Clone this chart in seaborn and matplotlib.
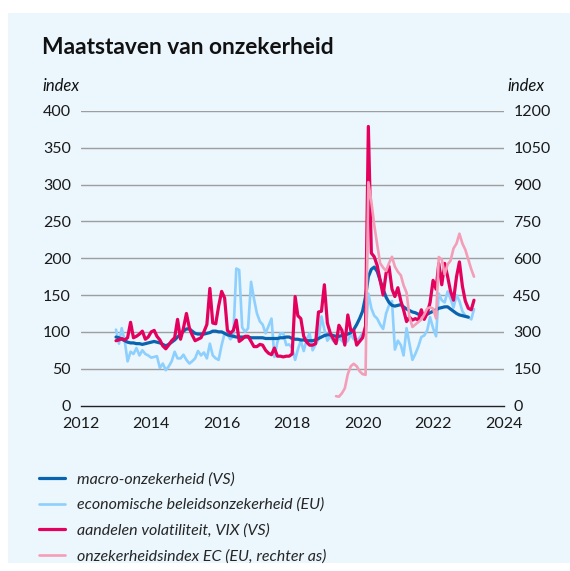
import matplotlib
matplotlib.use("Agg")
import matplotlib.pyplot as plt
import seaborn as sns
import pandas as pd
from matplotlib.patches import Rectangle

# ---------------- data (monthly) ----------------
macro = [93, 92, 90, 88, 86, 85, 85, 84, 84, 83, 84, 85,
         86, 87, 86, 85, 83, 81, 83, 86, 89, 93, 97, 101,
         104, 104, 101, 98, 97, 97, 97, 98, 99, 101, 101, 100,
         100, 98, 96, 95, 94, 93, 93, 93, 93, 93, 92, 92,
         92, 92, 92, 91, 91, 91, 91, 91, 92, 92, 93, 93,
         91, 90, 90, 89, 89, 88, 88, 88, 89, 91, 93, 95,
         96, 96, 95, 94, 94, 95, 96, 97, 99, 103, 110, 118,
         128, 148, 175, 185, 188, 182, 170, 158, 147, 140, 136, 135,
         136, 137, 134, 131, 129, 127, 126, 124, 123, 123, 124, 126,
         128, 130, 132, 133, 134, 134, 131, 128, 125, 123, 122, 121,
         120]
epu = [103, 84, 105, 88, 60, 73, 70, 78, 68, 75, 70, 68,
       65, 66, 67, 51, 57, 48, 53, 60, 73, 64, 64, 69,
       62, 57, 60, 64, 74, 68, 72, 64, 84, 68, 64, 62,
       82, 98, 97, 90, 94, 186, 184, 106, 100, 105, 168, 145,
       125, 114, 110, 98, 108, 118, 66, 86, 98, 98, 82, 83,
       78, 62, 76, 88, 74, 90, 98, 75, 83, 90, 121, 103,
       88, 94, 88, 84, 92, 88, 84, 88, 97, 90, 88, 92,
       98, 94, 152, 132, 122, 118, 110, 104, 125, 136, 142, 76,
       88, 82, 68, 105, 84, 62, 70, 80, 93, 95, 102, 120,
       105, 94, 152, 143, 140, 155, 145, 133, 150, 142, 128, 122,
       120, 117, 131]
vix = [88, 89, 91, 89, 92, 113, 92, 94, 97, 101, 90, 93,
       100, 102, 94, 89, 81, 77, 82, 88, 92, 117, 90, 105,
       125, 105, 96, 88, 90, 92, 100, 110, 159, 112, 111, 135,
       155, 146, 102, 98, 102, 116, 87, 90, 94, 94, 87, 80,
       80, 83, 82, 75, 71, 69, 78, 67, 67, 66, 67, 67,
       70, 148, 122, 118, 94, 86, 82, 82, 84, 127, 128, 164,
       112, 98, 91, 84, 109, 102, 82, 123, 102, 102, 82, 87,
       92, 108, 379, 207, 202, 190, 170, 150, 180, 189, 158, 148,
       160, 142, 130, 114, 120, 116, 118, 116, 130, 117, 125, 140,
       170, 158, 193, 164, 193, 175, 155, 143, 175, 195, 162, 142,
       132, 130, 143]
ec_index = [38, 36, 50, 70, 128, 160, 170, 160, 140, 128, 125,
            910, 830, 735, 655, 580, 562, 548, 580, 606, 566, 545, 530,
            490, 460, 360, 320, 330, 340, 350, 370, 395, 400, 395, 355,
            605, 595, 535, 575, 590, 640, 660, 700, 660, 635, 595, 555, 525]

labels = ["macro-onzekerheid (VS)",
          "economische beleidsonzekerheid (EU)",
          "aandelen volatiliteit, VIX (VS)",
          "onzekerheidsindex EC (EU, rechter as)"]
colors = ["#0A63AF", "#8DCFFD", "#E4005D", "#F59DB6"]
year_ticks = list(range(2012, 2025, 2))
left_ticks = list(range(0, 401, 50))
right_ticks = list(range(0, 1201, 150))

d_macro = pd.DataFrame({"date": pd.date_range("2013-01-01", periods=len(macro), freq="MS"), "v": macro})
d_epu = pd.DataFrame({"date": pd.date_range("2013-01-01", periods=len(epu), freq="MS"), "v": epu})
d_vix = pd.DataFrame({"date": pd.date_range("2013-01-01", periods=len(vix), freq="MS"), "v": vix})
d_ec = pd.DataFrame({"date": pd.date_range("2019-04-01", periods=len(ec_index), freq="MS"), "v": ec_index})

# ---------------- figure ----------------
sns.set_style("white")
plt.rcParams["font.family"] = ["Lato", "DejaVu Sans"]
BG = "#EBF6FD"
W, H = 570, 571
fig = plt.figure(figsize=(W / 100, H / 100), dpi=100)
fig.patch.set_facecolor("white")
fig.add_artist(Rectangle((8 / W, 1 - 563 / H), 1 - 8 / W, (563 - 13) / H,
                         transform=fig.transFigure, facecolor=BG, edgecolor="none", zorder=-10))

ax = fig.add_axes([80.7 / W, 1 - 405.5 / H, (503.5 - 80.7) / W, (405.5 - 111) / H])
ax.set_facecolor("none")

sns.lineplot(data=d_epu, x="date", y="v", ax=ax, color=colors[1], lw=1.9, label=labels[1], zorder=2)
sns.lineplot(data=d_macro, x="date", y="v", ax=ax, color=colors[0], lw=2.3, label=labels[0], zorder=3)
sns.lineplot(data=d_vix, x="date", y="v", ax=ax, color=colors[2], lw=2.3, label=labels[2], zorder=4)

ax2 = ax.twinx()
sns.lineplot(data=d_ec, x="date", y="v", ax=ax2, color=colors[3], lw=1.9, label=labels[3], zorder=2)

ax.set_xlim(pd.Timestamp("2012-01-01"), pd.Timestamp("2024-01-01"))
ax.set_ylim(0, 400)
ax2.set_ylim(0, 1200)

ax.set_xticks([pd.Timestamp(f"{y}-01-01") for y in year_ticks])
ax.set_xticklabels([str(y) for y in year_ticks])
ax.set_yticks(left_ticks)
ax.set_yticklabels([str(t) for t in left_ticks])
ax2.set_yticks(right_ticks)
ax2.set_yticklabels([str(t) for t in right_ticks])

for a in (ax, ax2):
    for s in ("top", "left", "right"):
        a.spines[s].set_visible(False)
    a.set_xlabel("")
    a.set_ylabel("")
ax2.spines["bottom"].set_visible(False)
ax.spines["bottom"].set_color("#222222")
ax.spines["bottom"].set_linewidth(1.0)

ax.grid(False)
ax2.grid(False)
for t in left_ticks[1:]:
    ax.axhline(t, color="#9E9E9E", lw=1.0, zorder=0)

tick_color = "#1a1a1a"
ax.tick_params(axis="x", direction="in", length=6, width=1.0, color="#222222",
               labelsize=11.5, labelcolor=tick_color, pad=8)
ax.tick_params(axis="y", length=0, labelsize=11.5, labelcolor=tick_color, pad=7)
ax2.tick_params(axis="y", length=0, labelsize=11.5, labelcolor=tick_color, pad=7)

h1, l1 = ax.get_legend_handles_labels()
h2, l2 = ax2.get_legend_handles_labels()
ax.get_legend().remove()
ax2.get_legend().remove()
hd = dict(zip(l1 + l2, h1 + h2))
fig.legend([hd[l] for l in labels], labels, loc="upper left",
           bbox_to_anchor=(39 / W, 1 - 472 / H), frameon=False,
           prop={"family": "Lato", "style": "italic", "size": 11.5},
           handlelength=1.65, handletextpad=0.7, labelspacing=0.72, borderpad=0,
           borderaxespad=0)

fig.text(42 / W, 1 - 48 / H, "Maatstaven van onzekerheid", fontsize=16.4,
         fontweight="bold", color="#111111", va="center", ha="left")
fig.text(42 / W, 1 - 86 / H, "index", fontsize=12, style="italic",
         color="#111111", va="center", ha="left")
fig.text(507 / W, 1 - 86 / H, "index", fontsize=12, style="italic",
         color="#111111", va="center", ha="left")

fig.savefig("out.png", dpi=100, facecolor=fig.get_facecolor())
